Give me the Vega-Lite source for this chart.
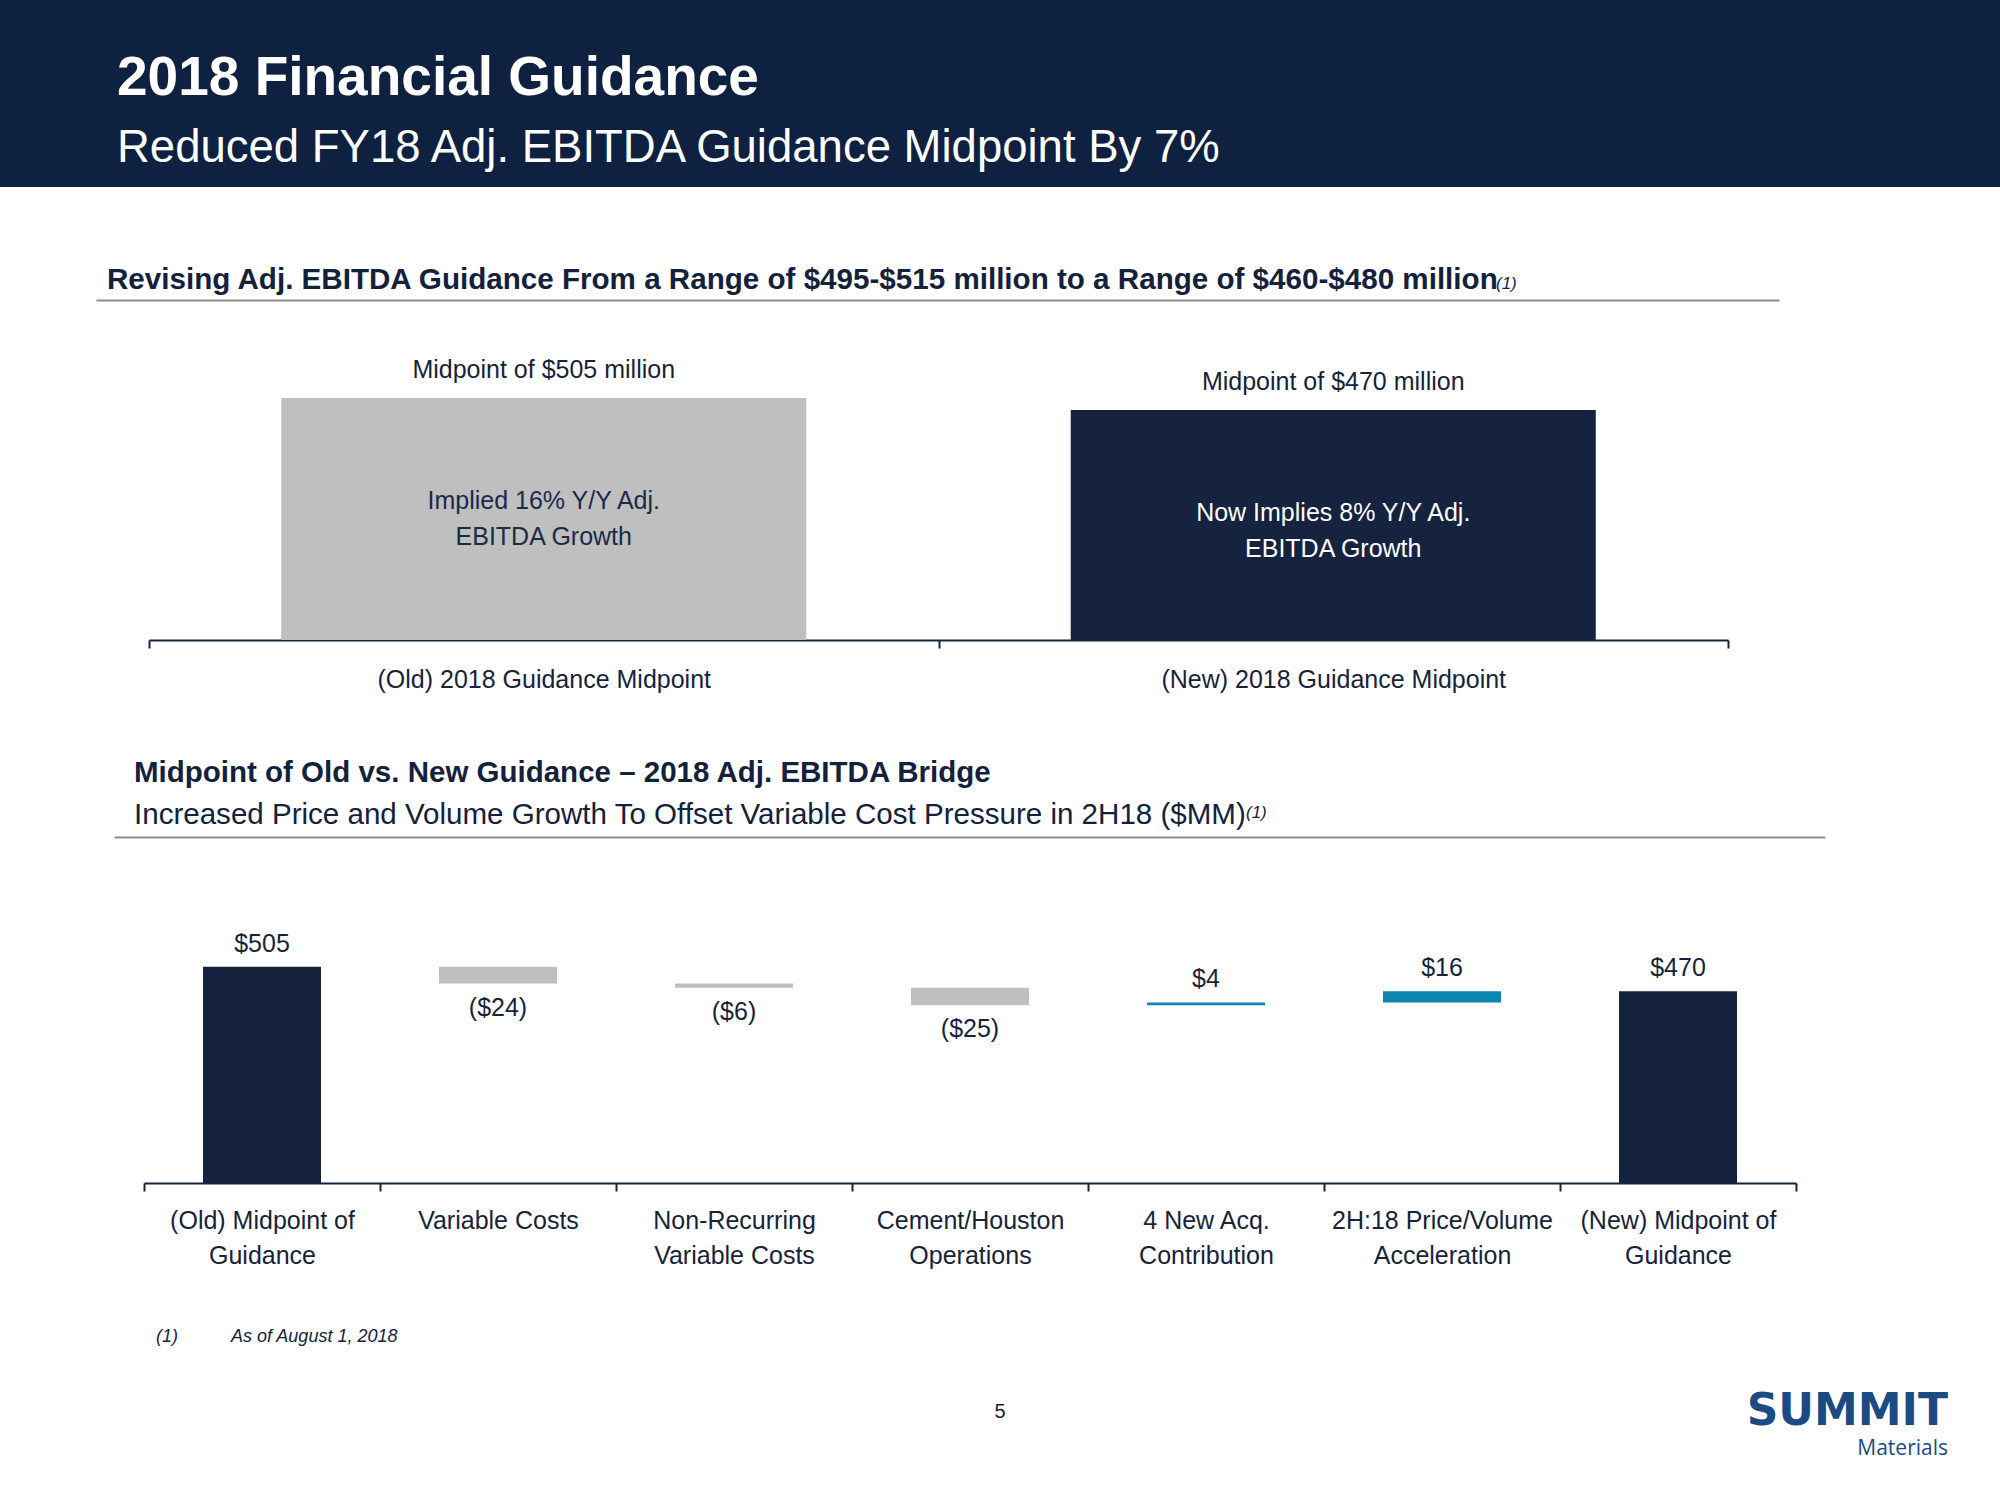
{
  "$schema": "https://vega.github.io/schema/vega-lite/v6.json",
  "padding": 0,
  "background": "#ffffff",
  "spacing": 0,
  "bounds": "flush",
  "resolve": {"scale": {"color": "independent", "x": "independent", "y": "independent"}},
  "vconcat": [
    {"width": 2000, "height": 187, "view": {"fill": "#0f2140"}, "data": {"values": []}, "mark": "point",
     "title": {"text": "2018 Financial Guidance", "subtitle": "Reduced FY18 Adj. EBITDA Guidance Midpoint By 7%", "orient": "top", "offset": -172.6, "dx": 117,
               "font": "Liberation Sans", "fontSize": 55, "fontWeight": "bold", "color": "#ffffff",
               "subtitleFont": "Liberation Sans", "subtitleFontSize": 45.5, "subtitleColor": "#ffffff", "subtitlePadding": 19.55}},

    {"width": 2000, "height": 113, "data": {"values": []}, "mark": "point",
     "encoding": {"x": {"field": "u", "type": "quantitative", "scale": {"domain": [0, 1], "range": [96, 1779], "nice": false},
                        "axis": {"orient": "bottom", "domainColor": "#8c8c8c", "domainWidth": 2, "ticks": false, "labels": false, "grid": false, "title": null}}},
     "title": {"text": "Revising Adj. EBITDA Guidance From a Range of $495-$515 million to a Range of $460-$480 million", "offset": -109, "dx": 107, "fontSize": 29.6, "fontWeight": "bold"}},

    {"width": 2000, "height": 1, "data": {"values": []}, "mark": "point",
     "title": {"text": "(1)", "offset": 7.4, "dx": 1496, "fontSize": 17, "fontStyle": "italic", "fontWeight": "normal"}},

    {
      "width": 2000, "height": 339,
      "data": {"values": [
        {"cat": "(Old) 2018 Guidance Midpoint", "midpoint": 505, "headline": "Midpoint of $505 million", "note": "Implied 16% Y/Y Adj.\nEBITDA Growth"},
        {"cat": "(New) 2018 Guidance Midpoint", "midpoint": 470, "headline": "Midpoint of $470 million", "note": "Now Implies 8% Y/Y Adj.\nEBITDA Growth"}
      ]},
      "encoding": {
        "x": {"field": "cat", "type": "nominal", "sort": null, "scale": {"range": [149, 1728], "paddingInner": 0, "paddingOuter": 0},
              "axis": {"title": null, "labelAngle": 0, "labelFontSize": 25, "labelColor": "#17233b", "labelPadding": 19, "labelLimit": 0,
                       "domainColor": "#16233f", "domainWidth": 2, "tickColor": "#16233f", "tickWidth": 2, "tickSize": 8, "tickBand": "extent"}}
      },
      "layer": [
        {"mark": {"type": "bar", "width": {"band": 0.665}},
         "encoding": {
           "y": {"field": "midpoint", "type": "quantitative", "scale": {"domain": [-200, 788], "zero": false, "nice": false}, "axis": null},
           "y2": {"datum": -200},
           "color": {"field": "cat", "type": "nominal", "scale": {"domain": ["(Old) 2018 Guidance Midpoint", "(New) 2018 Guidance Midpoint"], "range": ["#bfbfbf", "#16233f"]}, "legend": null}
         }},
        {"mark": {"type": "text", "baseline": "alphabetic", "dy": -20, "fontSize": 25, "color": "#17233b"},
         "encoding": {"y": {"field": "midpoint", "type": "quantitative"}, "text": {"field": "headline"}}},
        {"mark": {"type": "text", "baseline": "middle", "dy": 103, "fontSize": 25, "lineBreak": "\n", "lineHeight": 36},
         "encoding": {"y": {"field": "midpoint", "type": "quantitative"}, "text": {"field": "note"},
                      "color": {"condition": {"test": "datum.midpoint < 500", "value": "#ffffff"}, "value": "#1b2a47"}}}
      ]
    },

    {"width": 2000, "height": 197, "data": {"values": []}, "mark": "point",
     "encoding": {"x": {"field": "u", "type": "quantitative", "scale": {"domain": [0, 1], "range": [114, 1825], "nice": false},
                        "axis": {"orient": "bottom", "domainColor": "#8c8c8c", "domainWidth": 2, "ticks": false, "labels": false, "grid": false, "title": null}}},
     "title": {"text": "Midpoint of Old vs. New Guidance – 2018 Adj. EBITDA Bridge", "subtitle": "Increased Price and Volume Growth To Offset Variable Cost Pressure in 2H18 ($MM)",
               "offset": -190.1, "dx": 134, "fontSize": 29.5, "fontWeight": "bold", "subtitleFont": "Liberation Sans", "subtitleFontSize": 29.55, "subtitleColor": "#14213d", "subtitlePadding": 11.9}},

    {"width": 2000, "height": 1, "data": {"values": []}, "mark": "point",
     "title": {"text": "(1)", "offset": 15.4, "dx": 1246, "fontSize": 17, "fontStyle": "italic", "fontWeight": "normal"}},

    {
      "width": 2000, "height": 345,
      "data": {"values": [
        {"cat": "(Old) Midpoint of\nGuidance", "kind": "total", "start": 0, "end": 505, "value": 505},
        {"cat": "Variable Costs", "kind": "decrease", "start": 505, "end": 481, "value": -24},
        {"cat": "Non-Recurring\nVariable Costs", "kind": "decrease", "start": 481, "end": 475, "value": -6},
        {"cat": "Cement/Houston\nOperations", "kind": "decrease", "start": 475, "end": 450, "value": -25},
        {"cat": "4 New Acq.\nContribution", "kind": "increase", "start": 450, "end": 454, "value": 4},
        {"cat": "2H:18 Price/Volume\nAcceleration", "kind": "increase", "start": 454, "end": 470, "value": 16},
        {"cat": "(New) Midpoint of\nGuidance", "kind": "total", "start": 0, "end": 470, "value": 470}
      ]},
      "encoding": {
        "x": {"field": "cat", "type": "nominal", "sort": null, "scale": {"range": [144, 1796], "paddingInner": 0, "paddingOuter": 0},
              "axis": {"title": null, "labelAngle": 0, "labelFontSize": 25, "labelColor": "#17233b", "labelPadding": 17.5, "labelLimit": 0, "labelLineHeight": 35,
                       "labelExpr": "split(datum.label, '\\n')",
                       "domainColor": "#16233f", "domainWidth": 2, "tickColor": "#16233f", "tickWidth": 2, "tickSize": 8, "tickBand": "extent"}}
      },
      "layer": [
        {"mark": {"type": "bar", "width": {"band": 0.5}},
         "encoding": {
           "y": {"field": "end", "type": "quantitative", "scale": {"domain": [196, 688.9], "zero": false, "nice": false, "clamp": true}, "axis": null},
           "y2": {"field": "start"},
           "color": {"field": "kind", "type": "nominal", "scale": {"domain": ["total", "decrease", "increase"], "range": ["#16233f", "#bfbfbf", "#0a86b1"]}, "legend": null}
         }},
        {"transform": [{"filter": "datum.value > 0"}],
         "mark": {"type": "text", "baseline": "alphabetic", "dy": -15, "fontSize": 25, "color": "#17233b"},
         "encoding": {"y": {"field": "end", "type": "quantitative"}, "text": {"field": "value", "type": "quantitative", "format": "($.0f"}}},
        {"transform": [{"filter": "datum.value < 0"}],
         "mark": {"type": "text", "baseline": "alphabetic", "dy": 32, "fontSize": 25, "color": "#17233b"},
         "encoding": {"y": {"field": "end", "type": "quantitative"}, "text": {"field": "value", "type": "quantitative", "format": "($.0f"}}}
      ]
    },

    {"width": 2000, "height": 159, "data": {"values": []}, "mark": "point",
     "title": {"text": "5", "orient": "bottom", "anchor": "middle", "offset": 60.2, "fontSize": 20, "fontWeight": "normal"}},

    {"width": 2000, "height": 1, "data": {"values": []}, "mark": "point",
     "title": {"text": "(1)", "offset": -3.5, "dx": 156, "fontSize": 18, "fontStyle": "italic", "fontWeight": "normal"}},

    {"width": 2000, "height": 1, "data": {"values": []}, "mark": "point",
     "title": {"text": "As of August 1, 2018", "offset": -2.5, "dx": 231, "fontSize": 18, "fontStyle": "italic", "fontWeight": "normal"}},

    {"width": 1948, "height": 156, "data": {"values": []}, "mark": "point",
     "title": {"text": "SUMMIT", "subtitle": "Materials", "anchor": "end", "orient": "top", "offset": -115.4,
               "font": "DejaVu Sans", "fontSize": 44, "fontWeight": "bold", "color": "#1b4b82",
               "subtitleFont": "Open Sans", "subtitleFontSize": 21, "subtitleColor": "#1b4b82", "subtitlePadding": 4.2}}
  ],
  "config": {
    "view": {"stroke": null},
    "font": "Liberation Sans",
    "title": {"anchor": "start", "baseline": "top", "frame": "group", "color": "#14213d", "font": "Liberation Sans"},
    "text": {"font": "Liberation Sans"}
  }
}
